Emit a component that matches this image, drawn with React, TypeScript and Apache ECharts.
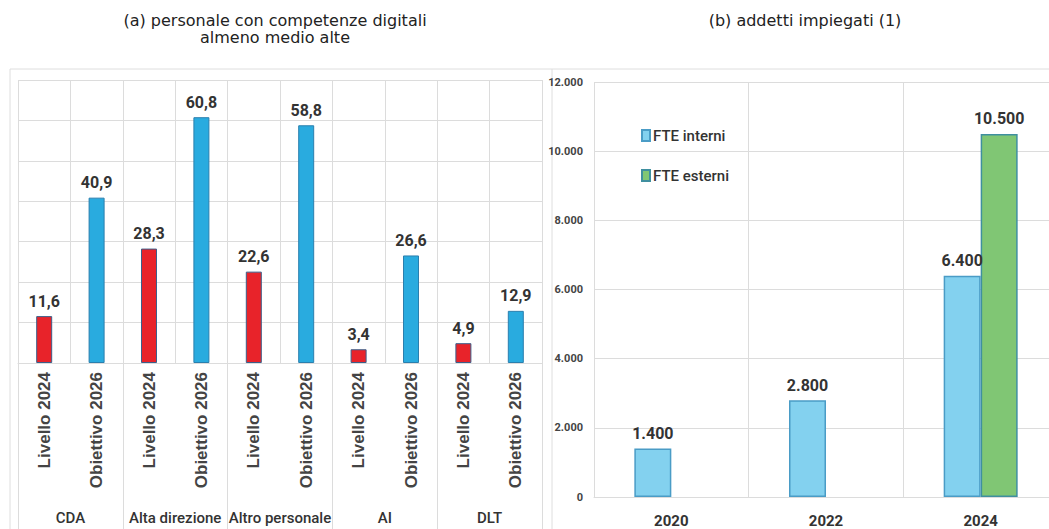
import React, { useEffect, useRef } from "react";
import * as echarts from "echarts";

const groups = ["CDA", "Alta direzione", "Altro personale", "AI", "DLT"];
const phases = ["Livello 2024", "Obiettivo 2026"];
const livello2024 = [11.6, 28.3, 22.6, 3.4, 4.9];
const obiettivo2026 = [40.9, 60.8, 58.8, 26.6, 12.9];

const years = ["2020", "2022", "2024"];
const fteInterni = [1400, 2800, 6400];
const fteEsterni: (number | null)[] = [null, null, 10500];
const rightTicks = [0, 2000, 4000, 6000, 8000, 10000, 12000];

const COND = "Roboto, 'Liberation Sans', sans-serif";
const ARIAL = "'Liberation Sans', Arial, sans-serif";
const TITLE = "'DejaVu Sans', 'Liberation Sans', sans-serif";
const GRID = "#dcdcdc";

const itFmt = (v: number) => String(v).replace(".", ",");
const thFmt = (v: number) => String(v).replace(/\B(?=(\d{3})+(?!\d))/g, ".");

export default function App() {
  const ref = useRef<HTMLDivElement>(null);
  useEffect(() => {
    if (!ref.current) return;
    const chart = echarts.init(ref.current, undefined, { renderer: "svg" });
    const cats = groups.flatMap(() => phases);
    const livData = livello2024.flatMap((v) => [v, null]);
    const objData = obiettivo2026.flatMap((v) => [null, v]);
    const labelStyle = {
      show: true,
      position: "top" as const,
      distance: 7,
      fontFamily: COND,
      fontWeight: "bold" as const,
      fontSize: 16,
      color: "#333",
    };
    chart.setOption({
      animation: false,
      backgroundColor: "#fff",
      title: [
        {
          text: "(a) personale con competenze digitali\nalmeno medio alte",
          left: 270,
          top: 7,
          textAlign: "center",
          textStyle: { fontFamily: TITLE, fontWeight: "normal", fontSize: 16, color: "#222", lineHeight: 17 },
        },
        {
          text: "(b) addetti impiegati (1)",
          left: 800,
          top: 7,
          textAlign: "center",
          textStyle: { fontFamily: TITLE, fontWeight: "normal", fontSize: 16, color: "#222", lineHeight: 17 },
        },
      ],
      legend: {
        orient: "vertical",
        left: 636,
        top: 123,
        itemGap: 25,
        itemWidth: 8,
        itemHeight: 11,
        icon: "rect",
        data: ["FTE interni", "FTE esterni"],
        textStyle: { fontFamily: COND, fontWeight: 500, fontSize: 15, color: "#333", padding: [0, 0, 0, -2] },
      },
      graphic: [
        {
          type: "rect",
          shape: { x: 10, y: 69, width: 1100, height: 500 },
          style: { fill: "none", stroke: "#dedede", lineWidth: 1 },
          silent: true,
        },
        {
          type: "line",
          shape: { x1: 552, y1: 69, x2: 552, y2: 529 },
          style: { stroke: "#dedede", lineWidth: 1 },
          silent: true,
        },
      ],
      grid: [
        { left: 18, top: 80, width: 524, height: 283 },
        { left: 594, top: 82, width: 464, height: 415 },
      ],
      xAxis: [
        {
          type: "category",
          gridIndex: 0,
          data: cats,
          axisLine: { lineStyle: { color: GRID } },
          axisTick: { show: false },
          splitLine: { show: true, lineStyle: { color: GRID } },
          axisLabel: {
            rotate: 90,
            margin: 9,
            fontFamily: ARIAL,
            fontWeight: "bold",
            fontSize: 17,
            color: "#444",
            interval: 0,
          },
        },
        {
          type: "category",
          gridIndex: 0,
          position: "bottom",
          data: groups,
          axisLine: { show: false },
          axisTick: { show: true, length: 170, lineStyle: { color: GRID } },
          splitLine: { show: false },
          axisLabel: {
            margin: 147,
            fontFamily: COND,
            fontWeight: 500,
            fontSize: 15,
            color: "#333",
            interval: 0,
          },
        },
        {
          type: "category",
          gridIndex: 1,
          data: years,
          axisLine: { lineStyle: { color: GRID } },
          axisTick: { show: false },
          splitLine: { show: true, lineStyle: { color: GRID } },
          axisLabel: {
            margin: 16,
            fontFamily: COND,
            fontWeight: "bold",
            fontSize: 15,
            color: "#333",
          },
        },
      ],
      yAxis: [
        {
          type: "value",
          gridIndex: 0,
          min: 0,
          max: 70,
          interval: 10,
          axisLine: { show: false },
          axisTick: { show: false },
          axisLabel: { show: false },
          splitLine: { lineStyle: { color: GRID } },
        },
        {
          type: "value",
          gridIndex: 1,
          min: rightTicks[0],
          max: rightTicks[rightTicks.length - 1],
          interval: 2000,
          axisLine: { show: false },
          axisTick: { show: false },
          axisLabel: {
            margin: 11,
            fontFamily: COND,
            fontWeight: "bold",
            fontSize: 11,
            color: "#444",
            formatter: (v: number) => thFmt(v),
          },
          splitLine: { lineStyle: { color: GRID } },
        },
      ],
      series: [
        {
          name: "Livello 2024",
          type: "bar",
          xAxisIndex: 0,
          yAxisIndex: 0,
          stack: "a",
          barWidth: 16,
          data: livData,
          itemStyle: { color: "#e8232a", borderColor: "#3b5f8a", borderWidth: 1 },
          label: { ...labelStyle, formatter: (p: any) => itFmt(p.value) },
        },
        {
          name: "Obiettivo 2026",
          type: "bar",
          xAxisIndex: 0,
          yAxisIndex: 0,
          stack: "a",
          barWidth: 16,
          data: objData,
          itemStyle: { color: "#29abdf", borderColor: "#2a7fae", borderWidth: 1 },
          label: { ...labelStyle, formatter: (p: any) => itFmt(p.value) },
        },
        {
          name: "FTE interni",
          type: "bar",
          xAxisIndex: 2,
          yAxisIndex: 1,
          barWidth: 37,
          barGap: "0%",
          data: fteInterni,
          itemStyle: { color: "#83d1ef", borderColor: "#4a9cc6", borderWidth: 1.5 },
          label: { ...labelStyle, formatter: (p: any) => thFmt(p.value) },
        },
        {
          name: "FTE esterni",
          type: "bar",
          xAxisIndex: 2,
          yAxisIndex: 1,
          barWidth: 37,
          barGap: "0%",
          data: fteEsterni,
          itemStyle: { color: "#80c674", borderColor: "#3f8f9f", borderWidth: 1.5 },
          label: { ...labelStyle, formatter: (p: any) => thFmt(p.value) },
        },
      ],
    });
    return () => chart.dispose();
  }, []);
  return (
    <div
      style={{ position: "absolute", left: 0, top: 0, width: 1049, height: 529, overflow: "hidden", background: "#fff" }}
    >
      <div ref={ref} style={{ width: 1080, height: 529 }} />
    </div>
  );
}
